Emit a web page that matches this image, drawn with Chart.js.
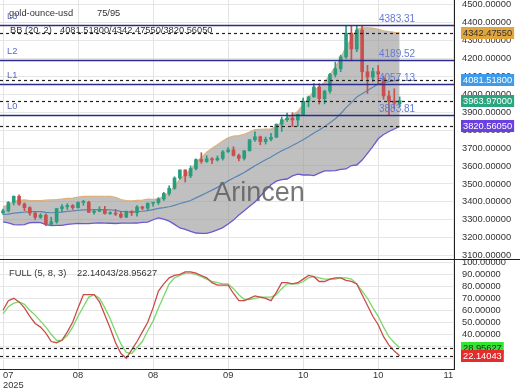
<!DOCTYPE html>
<html>
<head>
<meta charset="utf-8">
<script src="https://cdn.jsdelivr.net/npm/chart.js@4.4.1/dist/chart.umd.min.js"></script>
<style>
  html, body { margin: 0; padding: 0; background: #fff; overflow: hidden; }
  #wrap { position: relative; width: 520px; height: 390px; }
  canvas { position: absolute; left: 0; }
  #main { top: 0; }
  #stoch { top: 260px; }
</style>
</head>
<body>
<div id="wrap">
  <canvas id="main" width="520" height="260"></canvas>
  <canvas id="stoch" width="520" height="130"></canvas>
</div>
<script>
// daily candles, 18 Jul 2025 .. 30 Oct 2025
const opens = [3339,3350,3397,3431,3388,3368,3337,3314,3326,3275,3289,3363,3373,3380,3368,3397,3398,3342,3348,3356,
  3335,3336,3332,3315,3347,3339,3372,3365,3393,3396,3416,3447,3476,3533,3578,3545,3586,3636,3626,3640,
  3634,3643,3679,3690,3659,3643,3685,3746,3763,3736,3749,3760,3833,3858,3866,3856,3887,3961,3985,4040,
  3975,4017,4110,4142,4208,4340,4252,4358,4125,4095,4126,4090,3990,3962,3946];
const highs = [3360,3402,3434,3439,3394,3373,3345,3334,3334,3315,3363,3385,3390,3385,3400,3409,3404,3358,3373,3375,
  3345,3358,3345,3350,3351,3379,3376,3394,3398,3424,3453,3489,3540,3578,3579,3600,3640,3674,3657,3647,
  3656,3686,3703,3707,3667,3686,3749,3791,3767,3761,3782,3834,3872,3895,3897,3889,3978,3990,4059,4059,
  4022,4116,4179,4218,4380,4381,4380,4381,4161,4146,4160,4100,4019,4030,3985];
const lows = [3332,3344,3383,3381,3351,3325,3302,3308,3268,3268,3281,3345,3358,3358,3365,3381,3341,3332,3345,3331,
  3330,3324,3311,3312,3324,3321,3356,3352,3376,3386,3408,3436,3470,3527,3511,3535,3578,3615,3620,3613,
  3627,3633,3676,3655,3628,3633,3683,3737,3718,3722,3740,3758,3793,3848,3819,3821,3884,3930,3983,3945,
  3946,4006,4096,4126,4200,4186,4237,4082,4004,4071,4055,3972,3886,3918,3930];
const closes = [3350,3397,3431,3388,3368,3337,3314,3326,3275,3289,3363,3373,3380,3368,3397,3398,3342,3348,3356,3335,
  3336,3332,3315,3347,3339,3372,3365,3393,3396,3416,3447,3476,3533,3578,3545,3586,3636,3626,3640,3634,
  3643,3679,3690,3659,3643,3685,3746,3763,3736,3749,3760,3833,3858,3866,3856,3887,3961,3985,4040,3975,
  4017,4110,4142,4208,4340,4252,4358,4125,4095,4126,4112,3990,3962,3950,3963.97];

// Bollinger (20, 2)
const bbMid = [3330.9,3332.3,3337.7,3340.5,3342.5,3345.6,3346.2,3345.6,3341.5,3339.6,
  3340.9,3342.8,3346.8,3349.5,3353.2,3355.3,3355.3,3356.5,3356.9,3356.8,
  3356.1,3352.8,3347.0,3345.0,3343.5,3345.3,3347.8,3351.2,3357.2,3363.6,
  3367.8,3372.9,3380.6,3391.1,3398.5,3407.9,3422.6,3436.5,3450.7,3465.6,
  3481.0,3498.3,3517.1,3532.7,3547.9,3563.5,3582.6,3601.1,3618.1,3634.7,
  3650.4,3668.2,3684.5,3698.9,3714.4,3729.5,3745.7,3763.7,3783.7,3800.7,
  3819.4,3841.0,3863.6,3891.0,3925.2,3953.4,3983.9,4002.0,4020.0,4038.8,
  4056.4,4064.3,4069.5,4075.0,4081.518];
const bbUpper = [3373.3,3381.1,3402.5,3408.9,3411.7,3407.4,3406.6,3406.6,3409.5,3411.0,
  3413.1,3416.2,3419.2,3420.9,3426.4,3431.1,3431.1,3430.9,3431.3,3431.4,
  3431.1,3426.0,3412.6,3407.8,3405.5,3408.3,3409.8,3415.2,3413.8,3416.6,
  3432.0,3452.7,3486.6,3527.3,3550.4,3580.3,3618.6,3648.3,3676.5,3698.4,
  3718.0,3739.9,3757.1,3766.9,3768.9,3776.7,3789.4,3802.9,3804.7,3804.9,
  3805.6,3821.2,3845.5,3870.3,3883.6,3903.9,3941.5,3977.3,4020.9,4041.3,
  4066.2,4109.4,4152.6,4200.6,4266.8,4304.2,4362.3,4371.0,4369.8,4368.2,
  4361.2,4353.3,4348.9,4344.1,4342.4755];
const bbLower = [3288.5,3283.5,3272.9,3272.1,3273.3,3283.8,3285.8,3284.6,3273.5,3268.2,
  3268.7,3269.4,3274.4,3278.1,3280.0,3279.5,3279.5,3282.1,3282.5,3282.2,
  3281.1,3279.6,3281.4,3282.2,3281.5,3282.3,3285.8,3287.2,3300.6,3310.6,
  3303.6,3293.1,3274.6,3254.9,3246.6,3235.5,3226.6,3224.7,3224.9,3232.8,
  3244.0,3256.7,3277.1,3298.5,3326.9,3350.3,3375.8,3399.3,3431.5,3464.5,
  3495.2,3515.2,3523.5,3527.5,3545.2,3555.1,3549.9,3550.1,3546.5,3560.1,
  3572.6,3572.6,3574.6,3581.4,3583.6,3602.6,3605.5,3633.0,3670.1,3709.4,
  3751.6,3775.3,3792.1,3806.3,3820.5605];

// FULL stochastic (5, 8, 3)
const stochK = [60,68,70,67,62,55,49,46,41,34,33,35,42,50,62,73,73,73,67,56,
  45,33,24,20,27,34,42,50,62,76,82,87,89,90,92,92,91,89,87,83,
  81,81,81,74,68,68,70,72,71,70,68,75,83,83,82,83,86,89,88,84,
  84,86,87,87,85,84,82,73,64,55,48,38,31,26,22.14043];
const stochD = [57,63,66,67,65,60,56,51,46,40,35,35,39,46,55,63,71,73,70,62,
  53,42,32,25,24,29,34,43,51,62,72,82,87,89,91,91,90,88,86,84,
  83,82,82,78,73,69,69,70,71,71,71,73,78,82,82,82,84,87,88,87,
  86,86,86,87,87,86,82,76,70,62,55,46,38,33,28.95627];

const levels = [4383.31, 4189.52, 4057.13, 3883.81];
const levelNames = ['L3', 'L2', 'L1', 'L0'];

const xTickIdx = [0, 14, 28, 42, 56, 70, 84];
const xTickLabels = [['07', '2025'], '08', '08', '09', '10', '10', '11'];
const priceTicks = [3100,3200,3300,3400,3500,3600,3700,3800,3900,4000,4100,4200,4300,4400,4500];
const stochTicks = [20,30,40,50,60,70,80,90,100];

const FONT = '"Liberation Sans", Arial, sans-serif';
const UP = '#2a9d7e', DOWN = '#c8504f';
const X_MIN = -0.56, X_MAX = 84.14;

const last = a => a[a.length - 1];
const pts = arr => arr.map((v, i) => ({ x: i, y: v }));
const candleColor = i => closes[i] >= opens[i] ? UP : DOWN;

function fixY(s) { s.width = 66; s.paddingTop = 0; s.paddingBottom = 0; }

function valueBox(ctx, y, bg, fg, text) {
  ctx.font = '9.3px ' + FONT;
  const w = ctx.measureText(text).width + 4;
  ctx.fillStyle = bg;
  ctx.fillRect(461, Math.round(y) - 6, w, 12);
  ctx.fillStyle = fg;
  ctx.textAlign = 'left';
  ctx.textBaseline = 'middle';
  ctx.fillText(text, 463, Math.round(y) + 0.5);
}

function hLine(ctx, area, y, color, width, dash) {
  ctx.save();
  ctx.strokeStyle = color;
  ctx.lineWidth = width;
  ctx.setLineDash(dash);
  ctx.beginPath();
  ctx.moveTo(area.left, Math.round(y) + 0.5);
  ctx.lineTo(area.right, Math.round(y) + 0.5);
  ctx.stroke();
  ctx.restore();
}

const mainOverlay = {
  id: 'mainOverlay',
  afterDatasetsDraw(chart) {
    const ctx = chart.ctx, a = chart.chartArea, ys = chart.scales.y;
    ctx.save();
    // watermark
    ctx.font = '27px ' + FONT;
    ctx.fillStyle = 'rgba(95,95,95,0.85)';
    ctx.textAlign = 'center';
    ctx.textBaseline = 'middle';
    ctx.fillText('Arincen', 259, 194);

    // header
    ctx.font = '9.3px ' + FONT;
    ctx.fillStyle = '#333';
    ctx.textAlign = 'left';
    ctx.fillText('gold-ounce-usd', 9, 13);
    ctx.fillText('75/95', 97, 13);
    ctx.fillText('BB (20, 2)', 10, 30);
    ctx.fillText(last(bbMid).toFixed(5) + '/' + last(bbUpper).toFixed(5) + '/' + last(bbLower).toFixed(5), 60, 30);

    // level lines
    levels.forEach((v, k) => {
      const y = ys.getPixelForValue(v);
      hLine(ctx, a, y, '#2b2b8c', 1.3, []);
      ctx.font = '9.3px ' + FONT;
      ctx.fillStyle = '#5a6ac8';
      ctx.textBaseline = 'bottom';
      ctx.textAlign = 'left';
      ctx.fillText(levelNames[k], 7, y - 4);
      ctx.font = '10px ' + FONT;
      ctx.fillStyle = '#6478d8';
      ctx.fillText(v.toFixed(2), 379, y - 1);
    });

    // last-value dashed lines
    [last(bbUpper), last(bbMid), last(closes), last(bbLower)].forEach(v => {
      hLine(ctx, a, ys.getPixelForValue(v), '#222', 1.2, [3, 3]);
    });
    ctx.restore();
  },
  afterDraw(chart) {
    const ctx = chart.ctx, ys = chart.scales.y;
    valueBox(ctx, ys.getPixelForValue(last(bbUpper)), '#e2a43c', '#333', last(bbUpper).toFixed(5));
    valueBox(ctx, ys.getPixelForValue(last(bbMid)), '#3d9be9', '#fff', last(bbMid).toFixed(5));
    valueBox(ctx, ys.getPixelForValue(last(closes)), '#2aa57f', '#fff', last(closes).toFixed(5));
    valueBox(ctx, ys.getPixelForValue(last(bbLower)), '#6a40e0', '#fff', last(bbLower).toFixed(5));
    ctx.save();
    ctx.strokeStyle = '#222';
    ctx.lineWidth = 1;
    ctx.beginPath();
    ctx.moveTo(0, 259.5);
    ctx.lineTo(520, 259.5);
    ctx.stroke();
    ctx.restore();
  }
};

const idx = closes.map((c, i) => i);

new Chart(document.getElementById('main'), {
  type: 'bar',
  data: {
    datasets: [
      {
        data: idx.map(i => ({ x: i, y: [lows[i], highs[i]] })),
        backgroundColor: idx.map(candleColor),
        barThickness: 1, grouped: false, order: 0
      },
      {
        data: idx.map(i => ({ x: i, y: [Math.min(opens[i], closes[i]), Math.max(opens[i], closes[i])] })),
        backgroundColor: idx.map(candleColor),
        barThickness: 3, minBarLength: 1, grouped: false, order: 0
      },
      {
        type: 'line', data: pts(bbUpper), borderColor: '#dcb27a', borderWidth: 1.2,
        backgroundColor: 'rgba(150,150,150,0.6)', fill: '+2', pointRadius: 0, order: 1
      },
      {
        type: 'line', data: pts(bbMid), borderColor: '#5a86b4', borderWidth: 1.2,
        fill: false, pointRadius: 0, order: 1
      },
      {
        type: 'line', data: pts(bbLower), borderColor: '#6a5ad0', borderWidth: 1.3,
        fill: false, pointRadius: 0, order: 1
      }
    ]
  },
  options: {
    responsive: false, animation: false, devicePixelRatio: 1,
    layout: { padding: 0, autoPadding: false },
    plugins: { legend: { display: false }, tooltip: { enabled: false }, filler: { drawTime: 'beforeDatasetsDraw' } },
    scales: {
      x: {
        type: 'linear', min: X_MIN, max: X_MAX, offset: false,
        grid: { color: '#e3e3e3', offset: false, drawTicks: false },
        border: { display: false },
        ticks: { display: false },
        afterBuildTicks: s => { s.ticks = xTickIdx.map(v => ({ value: v })); },
        afterFit: s => { s.height = 0; s.paddingLeft = 0; s.paddingRight = 0; }
      },
      y: {
        position: 'right', min: 3076.3, max: 4524.8,
        grid: { color: '#e6e6e6', drawTicks: false },
        border: { display: true, color: '#222', width: 1 },
        ticks: { autoSkip: false, padding: 8, color: '#333', font: { family: FONT, size: 9.3 }, callback: v => v.toFixed(5) },
        afterBuildTicks: s => { s.ticks = priceTicks.map(v => ({ value: v })); },
        afterFit: fixY
      }
    }
  },
  plugins: [mainOverlay]
});

const stochOverlay = {
  id: 'stochOverlay',
  afterDatasetsDraw(chart) {
    const ctx = chart.ctx, a = chart.chartArea, ys = chart.scales.y;
    ctx.save();
    ctx.font = '9.3px ' + FONT;
    ctx.fillStyle = '#333';
    ctx.textAlign = 'left';
    ctx.textBaseline = 'middle';
    ctx.fillText('FULL (5, 8, 3)', 9, 13);
    ctx.fillText(last(stochK).toFixed(5) + '/' + last(stochD).toFixed(5), 77, 13);
    hLine(ctx, a, ys.getPixelForValue(last(stochD)), '#222', 1.2, [3, 3]);
    hLine(ctx, a, ys.getPixelForValue(last(stochK)), '#222', 1.2, [3, 3]);
    ctx.restore();
  },
  afterDraw(chart) {
    const ctx = chart.ctx, ys = chart.scales.y;
    valueBox(ctx, ys.getPixelForValue(last(stochD)), '#34e334', '#222', last(stochD).toFixed(5));
    valueBox(ctx, ys.getPixelForValue(last(stochK)), '#e42c2c', '#fff', last(stochK).toFixed(5));
  }
};

new Chart(document.getElementById('stoch'), {
  type: 'line',
  data: {
    datasets: [
      { data: pts(stochK), borderColor: '#cc4a4a', borderWidth: 1.3, pointRadius: 0, fill: false },
      { data: pts(stochD), borderColor: '#78d868', borderWidth: 1.3, pointRadius: 0, fill: false }
    ]
  },
  options: {
    responsive: false, animation: false, devicePixelRatio: 1,
    layout: { padding: 0, autoPadding: false },
    plugins: { legend: { display: false }, tooltip: { enabled: false } },
    scales: {
      x: {
        type: 'linear', min: X_MIN, max: X_MAX,
        grid: { color: '#e3e3e3', drawTicks: false },
        border: { display: true, color: '#222', width: 1 },
        ticks: {
          autoSkip: false, maxRotation: 0, align: 'inner', padding: 2,
          color: '#333', font: { family: FONT, size: 9.3, lineHeight: 1 },
          callback: (v, i) => xTickLabels[i]
        },
        afterBuildTicks: s => { s.ticks = xTickIdx.map(v => ({ value: v })); },
        afterFit: s => { s.height = 21; s.paddingLeft = 0; s.paddingRight = 0; }
      },
      y: {
        position: 'right', min: 11.1, max: 101.9,
        grid: { color: '#e6e6e6', drawTicks: false },
        border: { display: true, color: '#222', width: 1 },
        ticks: { autoSkip: false, padding: 8, color: '#333', font: { family: FONT, size: 9.3 }, callback: v => v.toFixed(5) },
        afterBuildTicks: s => { s.ticks = stochTicks.map(v => ({ value: v })); },
        afterFit: fixY
      }
    }
  },
  plugins: [stochOverlay]
});
</script>
</body>
</html>
